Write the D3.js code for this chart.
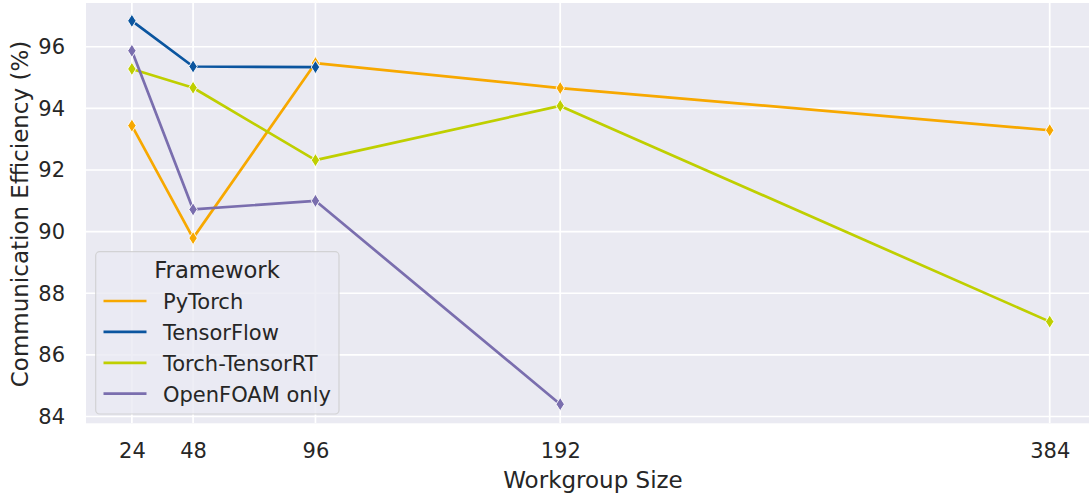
<!DOCTYPE html>
<html>
<head>
<meta charset="utf-8">
<script src="https://cdn.jsdelivr.net/npm/d3@7"></script>
<style>
  html, body { margin: 0; padding: 0; background: #ffffff; }
  svg { display: block; }
  text { font-family: "DejaVu Sans", sans-serif; fill: #262626; }
</style>
</head>
<body>
<svg id="chart" width="1089" height="499"></svg>
<script>
// ---- data ----
const workgroupSizes = [24, 48, 96, 192, 384];
const frameworks = ["PyTorch", "TensorFlow", "Torch-TensorRT", "OpenFOAM only"];
const pytorchValues = [93.44, 89.79, 95.47, 94.66, 93.29];
const tensorflowValues = [96.84, 95.36, 95.34, null, null];
const torchTensorRTValues = [95.28, 94.67, 92.32, 94.08, 87.08];
const openfoamValues = [95.87, 90.72, 91.0, 84.4, null];
const yTicks = [84, 86, 88, 90, 92, 94, 96];
const xTicks = [24, 48, 96, 192, 384];
const colors = ["#f7a800", "#0b559f", "#bfcf00", "#7a6eae"];

const seriesValues = [pytorchValues, tensorflowValues, torchTensorRTValues, openfoamValues];
const series = frameworks.map((name, i) => ({
  name,
  color: colors[i],
  points: workgroupSizes.map((x, j) => ({ x, y: seriesValues[i][j] })).filter(p => p.y != null)
}));

// ---- layout ----
const svg = d3.select("#chart");
const plot = { left: 86, top: 3, right: 1095.6, bottom: 423.3 };

const x = d3.scaleLinear().domain([6, 402]).range([plot.left, plot.right]);
const y = d3.scaleLinear().domain([83.78, 97.42]).range([plot.bottom, plot.top]);

const clipId = "plotclip";
svg.append("defs").append("clipPath").attr("id", clipId)
  .append("rect").attr("x", plot.left).attr("y", plot.top)
  .attr("width", plot.right - plot.left).attr("height", plot.bottom - plot.top);

// background
svg.append("rect")
  .attr("x", plot.left).attr("y", plot.top)
  .attr("width", plot.right - plot.left).attr("height", plot.bottom - plot.top)
  .attr("fill", "#eaeaf2");

// grid
const grid = svg.append("g").attr("clip-path", `url(#${clipId})`);
grid.selectAll("line.h").data(yTicks).enter().append("line")
  .attr("x1", plot.left).attr("x2", plot.right)
  .attr("y1", d => y(d)).attr("y2", d => y(d))
  .attr("stroke", "#ffffff").attr("stroke-width", 1.7);
grid.selectAll("line.v").data(xTicks).enter().append("line")
  .attr("y1", plot.top).attr("y2", plot.bottom)
  .attr("x1", d => x(d)).attr("x2", d => x(d))
  .attr("stroke", "#ffffff").attr("stroke-width", 1.7);

// axes (tick labels via d3 axes, no domain/ticks)
const xAxis = d3.axisBottom(x).tickValues(xTicks).tickSize(0).tickPadding(20).tickFormat(d3.format("d"));
const gx = svg.append("g").attr("transform", `translate(0,${plot.bottom})`).call(xAxis);
gx.select(".domain").remove();
gx.selectAll("text").style("font-size", "21px").attr("fill", "#262626")
  .attr("font-family", "DejaVu Sans, sans-serif");

const yAxis = d3.axisLeft(y).tickValues(yTicks).tickSize(0).tickPadding(21).tickFormat(d3.format("d"));
const gy = svg.append("g").attr("transform", `translate(${plot.left},0)`).call(yAxis);
gy.select(".domain").remove();
gy.selectAll("text").style("font-size", "21px").attr("fill", "#262626")
  .attr("font-family", "DejaVu Sans, sans-serif");

// axis labels
svg.append("text")
  .attr("x", 593).attr("y", 487.5)
  .attr("text-anchor", "middle")
  .style("font-size", "23px")
  .text("Workgroup Size");

svg.append("text")
  .attr("transform", `translate(27.5,214) rotate(-90)`)
  .attr("text-anchor", "middle")
  .style("font-size", "23px")
  .text("Communication Efficiency (%)");

// lines & markers
const line = d3.line().x(d => x(d.x)).y(d => y(d.y));
const diamond = (cx, cy) => {
  const hw = 4.2, hh = 6.6;
  return `M${cx},${cy - hh}L${cx + hw},${cy}L${cx},${cy + hh}L${cx - hw},${cy}Z`;
};
const marks = svg.append("g").attr("clip-path", `url(#${clipId})`);
series.forEach(s => {
  const g = marks.append("g");
  g.append("path").datum(s.points)
    .attr("d", line)
    .attr("fill", "none")
    .attr("stroke", s.color)
    .attr("stroke-width", 2.7)
    .attr("stroke-linejoin", "round")
    .attr("stroke-linecap", "round");
  g.selectAll("path.m").data(s.points).enter().append("path")
    .attr("d", d => diamond(x(d.x), y(d.y)))
    .attr("fill", s.color)
    .attr("stroke", "#ffffff")
    .attr("stroke-width", 0.9);
});

// legend
const lg = svg.append("g");
lg.append("rect")
  .attr("x", 95.7).attr("y", 251.7)
  .attr("width", 339 - 95.7).attr("height", 414 - 251.7)
  .attr("rx", 4).attr("ry", 4)
  .attr("fill", "#eaeaf2").attr("fill-opacity", 0.8)
  .attr("stroke", "#cccccc").attr("stroke-opacity", 0.8).attr("stroke-width", 1.2);
lg.append("text")
  .attr("x", 217).attr("y", 277.7)
  .attr("text-anchor", "middle")
  .style("font-size", "22.7px")
  .text("Framework");
series.forEach((s, i) => {
  const ly = 301 + i * 30.9;
  lg.append("line")
    .attr("x1", 103.5).attr("x2", 146.5)
    .attr("y1", ly).attr("y2", ly)
    .attr("stroke", s.color).attr("stroke-width", 2.7);
  lg.append("text")
    .attr("x", 163).attr("y", ly + 8)
    .style("font-size", "21px")
    .text(s.name);
});
</script>
</body>
</html>
